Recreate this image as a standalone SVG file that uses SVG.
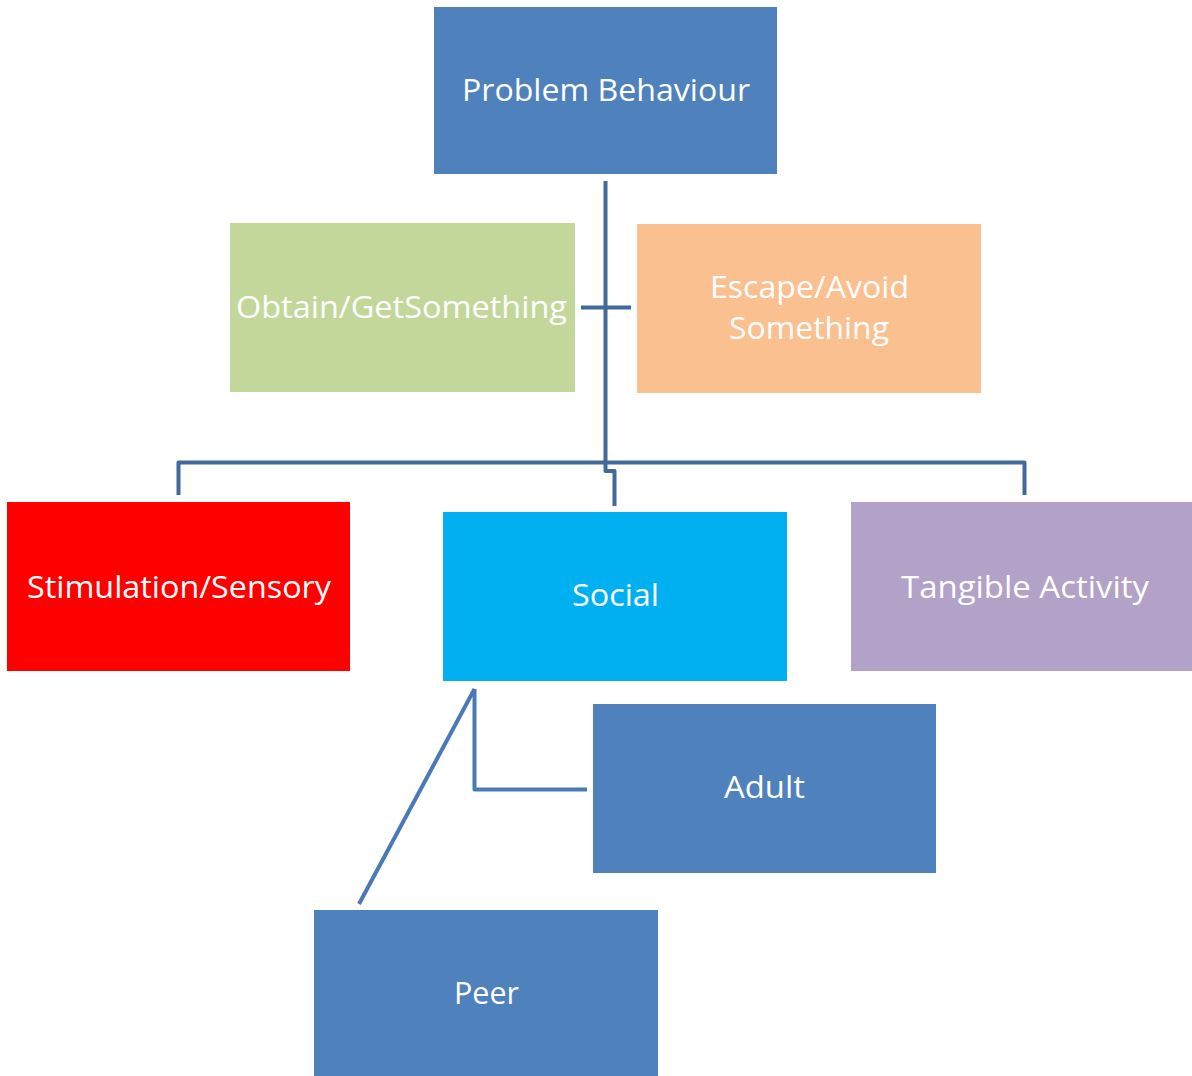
<svg xmlns="http://www.w3.org/2000/svg" width="1192" height="1076" viewBox="0 0 1192 1076">
<style>
.lbl{font-family:"Open Sans","Liberation Sans",sans-serif;font-size:31px;fill:#ffffff;text-anchor:middle}
.conn{fill:none;stroke:#41699A;stroke-width:4;stroke-linejoin:round}
.conn2{fill:none;stroke:#4A7AB6;stroke-width:4;stroke-linejoin:round}
</style>
<rect width="1192" height="1076" fill="#ffffff"/>
<g id="connectors">
<path class="conn" d="M605.5 181 V471 H614.5 V506"/>
<path class="conn" d="M581 307.5 H631"/>
<path class="conn" d="M178.5 495 V462.5 H1024.5 V495"/>
<path class="conn2" d="M474.5 689 V789.5 H587"/>
<path class="conn2" d="M474.5 689 L359 904"/>
</g>
<g id="problem-behaviour">
<rect x="434" y="7" width="343" height="167" fill="#4F81BD"/>
<text class="lbl" x="606" y="101" textLength="288" lengthAdjust="spacingAndGlyphs">Problem Behaviour</text>
</g>
<g id="obtain">
<rect x="230" y="223" width="345" height="169" fill="#C4D79B"/>
<text class="lbl" x="401.5" y="318" textLength="331" lengthAdjust="spacingAndGlyphs">Obtain/GetSomething</text>
</g>
<g id="escape">
<rect x="637" y="224" width="344" height="169" fill="#FAC090"/>
<text class="lbl" x="809.5" y="298" textLength="199" lengthAdjust="spacingAndGlyphs">Escape/Avoid</text>
<text class="lbl" x="809" y="339" textLength="160" lengthAdjust="spacingAndGlyphs">Something</text>
</g>
<g id="stimulation">
<rect x="7" y="502" width="343" height="169" fill="#FF0000"/>
<text class="lbl" x="179" y="598" textLength="304" lengthAdjust="spacingAndGlyphs">Stimulation/Sensory</text>
</g>
<g id="social">
<rect x="443" y="512" width="344" height="169" fill="#00B0F0"/>
<text class="lbl" x="615.5" y="606" textLength="87" lengthAdjust="spacingAndGlyphs">Social</text>
</g>
<g id="tangible">
<rect x="851" y="502" width="341" height="169" fill="#B2A2C7"/>
<text class="lbl" x="1025" y="598" textLength="248" lengthAdjust="spacingAndGlyphs">Tangible Activity</text>
</g>
<g id="adult">
<rect x="593" y="704" width="343" height="169" fill="#4F81BD"/>
<text class="lbl" x="764.5" y="798" textLength="81" lengthAdjust="spacingAndGlyphs">Adult</text>
</g>
<g id="peer">
<rect x="314" y="910" width="344" height="166" fill="#4F81BD"/>
<text class="lbl" x="486.5" y="1004" textLength="65" lengthAdjust="spacingAndGlyphs">Peer</text>
</g>
</svg>
